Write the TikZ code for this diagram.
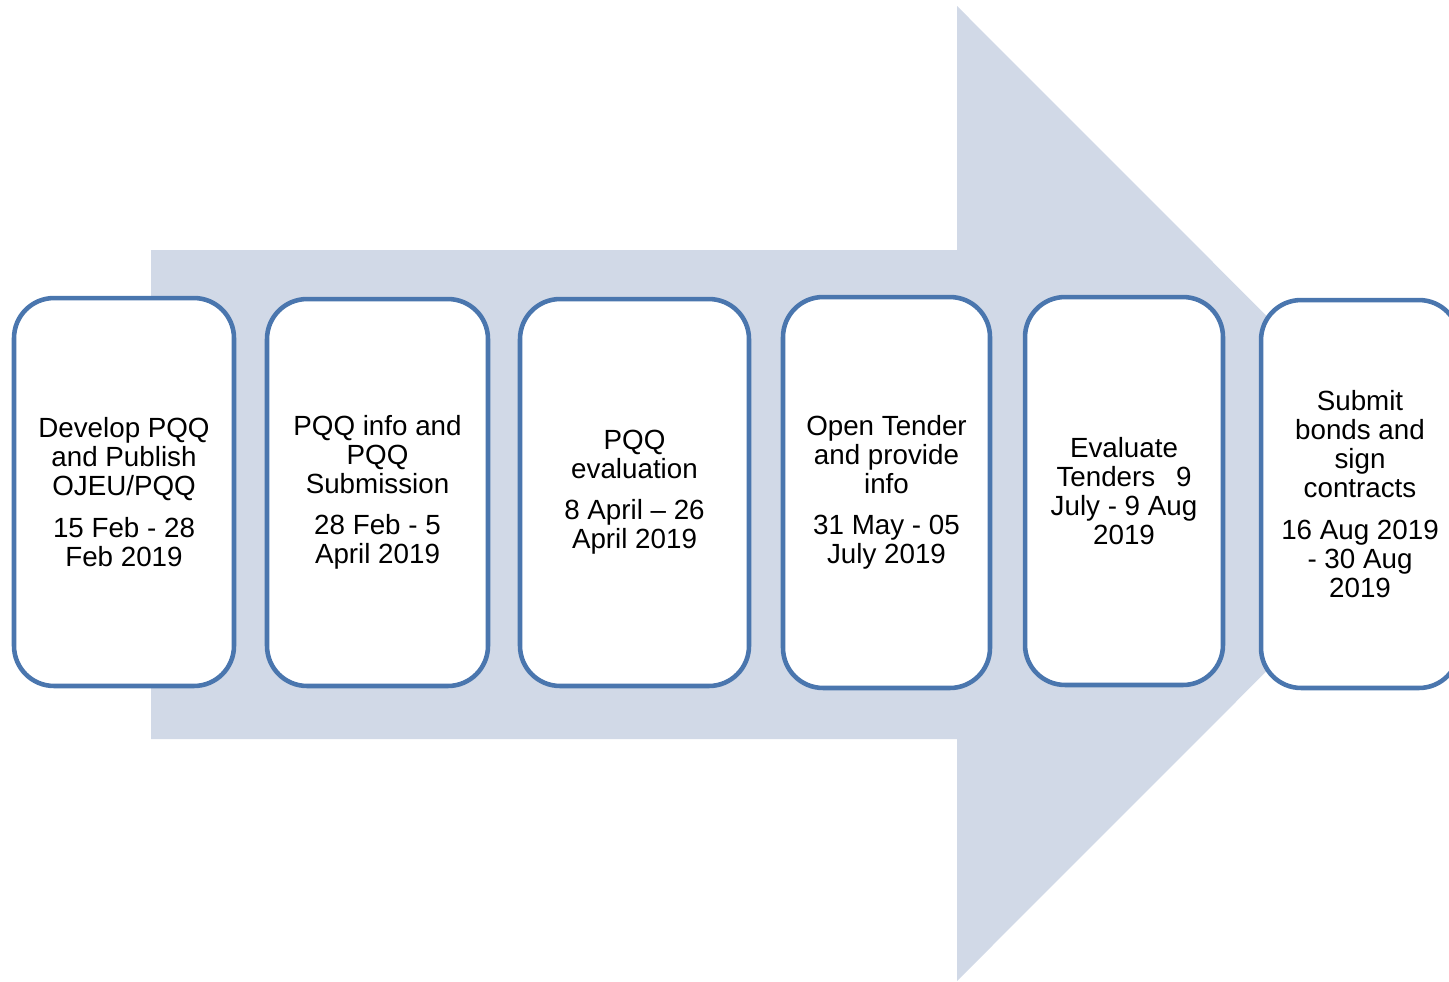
\documentclass[tikz,border=0pt]{standalone}
\usepackage{fontspec}
\setmainfont{Liberation Sans}
\usepackage{xcolor}
\usepackage{tikz}
\definecolor{arrowfill}{HTML}{D1D9E7}
\definecolor{boxline}{HTML}{4A76AE}
\tikzset{
  stage/.style={draw=boxline,line width=2.6pt,fill=white,rounded corners=0.8cm,
    align=center,inner sep=0pt,font=\fontsize{15.8}{16.5}\selectfont}
}
\newcommand{\gap}{\\[7pt]}

\begin{document}
\begin{tikzpicture}[x=0.02cm,y=-0.02cm]
  \useasboundingbox (0,0) rectangle (1449,981);
  % big background arrow
  \fill[arrowfill] (151,250) -- (957,250) -- (957,6) -- (1444,493.5)
    -- (957,981) -- (957,739) -- (151,739) -- cycle;

  \node[stage,minimum width=4.4cm,minimum height=7.76cm] (develop) at (124,492)
    {Develop PQQ\\and Publish\\OJEU/PQQ\gap 15 Feb - 28\\Feb 2019};
  \node[stage,minimum width=4.42cm,minimum height=7.74cm] (submission) at (377.5,492.5)
    {PQQ info and\\PQQ\\Submission\gap 28 Feb - 5\\April 2019};
  \node[stage,minimum width=4.58cm,minimum height=7.74cm] (pqqeval) at (634.5,492.5)
    {PQQ\\evaluation\gap 8 April -- 26\\April 2019};
  \node[stage,minimum width=4.14cm,minimum height=7.82cm] (tender) at (886.5,492.5)
    {Open Tender\\and provide\\info\gap 31 May - 05\\July 2019};
  \node[stage,minimum width=3.96cm,minimum height=7.76cm] (tendereval) at (1124,491)
    {Evaluate\\Tenders\hspace{0.75em}9\\July - 9 Aug\\2019};
  \node[stage,minimum width=3.96cm,minimum height=7.76cm] (contracts) at (1360,494)
    {Submit\\bonds and\\sign\\contracts\gap 16 Aug 2019\\- 30 Aug\\2019};
\end{tikzpicture}
\end{document}
